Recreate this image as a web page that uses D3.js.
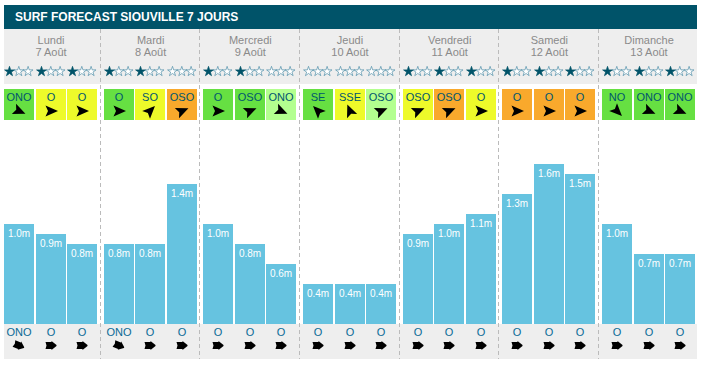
<!DOCTYPE html>
<html>
<head>
<meta charset="utf-8">
<script src="https://cdn.jsdelivr.net/npm/d3@7"></script>
<style>
    html, body { margin: 0; padding: 0; background: #fff; }
    svg { display: block; font-family: "Liberation Sans", Arial, sans-serif; }
</style>
</head>
<body>
<svg id="chart" width="701" height="365"></svg>
<script>
const title = 'SURF FORECAST SIOUVILLE 7 JOURS';
const dayNames = ['Lundi', 'Mardi', 'Mercredi', 'Jeudi', 'Vendredi', 'Samedi', 'Dimanche'];
const dates = ['7 Août', '8 Août', '9 Août', '10 Août', '11 Août', '12 Août', '13 Août'];
const heights = [
    [1.0, 0.9, 0.8], [0.8, 0.8, 1.4], [1.0, 0.8, 0.6], [0.4, 0.4, 0.4],
    [0.9, 1.0, 1.1], [1.3, 1.6, 1.5], [1.0, 0.7, 0.7]
];
const stars = [
    [1, 1, 1], [1, 1, 0], [1, 1, 0], [0, 0, 0],
    [1, 1, 1], [1, 1, 1], [1, 1, 1]
];
const windDirs = [
    ['ONO', 'O', 'O'], ['O', 'SO', 'OSO'], ['O', 'OSO', 'ONO'], ['SE', 'SSE', 'OSO'],
    ['OSO', 'OSO', 'O'], ['O', 'O', 'O'], ['NO', 'ONO', 'ONO']
];
// g = good, l = light, y = fair, o = poor
const windRatings = [
    ['g', 'y', 'y'], ['g', 'y', 'o'], ['g', 'g', 'l'], ['g', 'y', 'l'],
    ['y', 'o', 'y'], ['o', 'o', 'o'], ['g', 'g', 'g']
];
const swellDirs = [
    ['ONO', 'O', 'O'], ['ONO', 'O', 'O'], ['O', 'O', 'O'], ['O', 'O', 'O'],
    ['O', 'O', 'O'], ['O', 'O', 'O'], ['O', 'O', 'O']
];
const compassNames = ['N', 'NNE', 'NE', 'ENE', 'E', 'ESE', 'SE', 'SSE', 'S', 'SSO', 'SO', 'OSO', 'O', 'ONO', 'NO', 'NNO'];
const ratingColours = { g: '#66e042', l: '#b3ff8f', y: '#eefa2a', o: '#f9a92c' };

const teal = '#005369';
const darkText = '#00566e';
const blueText = '#0a6a96';
const grey = '#eeeeee';

// arrows point where the wind is going, not where it comes from
const heading = name => compassNames.indexOf(name) * 22.5 + 180 - 90;

const svg = d3.select('#chart');

const xDay = d3.scaleBand().domain(dayNames).range([4, 701.7]);
const xSlot = d3.scaleBand().domain([0, 1, 2]).range([0, 93]).paddingInner(0.05);
const yScale = d3.scaleLinear().domain([0, 1]).range([324, 224]);

const slotX = (day, i) => Math.round(xDay(day) + xSlot(i));
const slotW = Math.round(xSlot.bandwidth());
const slotMid = (day, i) => slotX(day, i) + slotW / 2;

// bands
svg.append('rect').attr('x', 4).attr('y', 29).attr('width', 693).attr('height', 55).attr('fill', grey);
svg.append('rect').attr('x', 4).attr('y', 324).attr('width', 693).attr('height', 35).attr('fill', grey);
svg.append('rect').attr('x', 4).attr('y', 5).attr('width', 693).attr('height', 24).attr('fill', teal);
svg.append('text').attr('x', 15).attr('y', 21)
    .attr('fill', '#fff').attr('font-size', 12).attr('font-weight', 'bold')
    .text(title);

// one group per day
const days = svg.selectAll('g.day')
    .data(dayNames.map((name, d) => ({ name, d })))
    .enter()
    .append('g')
    .attr('class', 'day');

days.append('text')
    .attr('x', d => xDay(d.name) + 47).attr('y', 44)
    .attr('text-anchor', 'middle').attr('font-size', 11).attr('fill', '#8a8a8a')
    .text(d => d.name);
days.append('text')
    .attr('x', d => xDay(d.name) + 47).attr('y', 56)
    .attr('text-anchor', 'middle').attr('font-size', 11).attr('fill', '#8a8a8a')
    .text(d => dates[d.d]);

const slots = days.selectAll('g.slot')
    .data(d => [0, 1, 2].map(i => ({
        day: d.name,
        i,
        height: heights[d.d][i],
        star: stars[d.d][i],
        wind: windDirs[d.d][i],
        rating: windRatings[d.d][i],
        swell: swellDirs[d.d][i]
    })))
    .enter()
    .append('g')
    .attr('class', 'slot');

// stars
const starPath = d3.symbol().type(d3.symbolStar).size(30)();
slots.each(function drawStars(s) {
    d3.select(this).selectAll('path.star')
        .data([0, 1, 2])
        .enter()
        .append('path')
        .attr('class', 'star')
        .attr('d', starPath)
        .attr('transform', k => `translate(${slotX(s.day, s.i) + 5.5 + k * 9.3},71.5)`)
        .attr('fill', k => (k < s.star ? teal : '#fff'))
        .attr('stroke', k => (k < s.star ? teal : '#4f8ea8'))
        .attr('stroke-width', 0.7);
});

// wind boxes
slots.append('rect')
    .attr('x', s => slotX(s.day, s.i)).attr('y', 89)
    .attr('width', slotW).attr('height', 31)
    .attr('fill', s => ratingColours[s.rating]);
slots.append('text')
    .attr('x', s => slotMid(s.day, s.i)).attr('y', 101)
    .attr('text-anchor', 'middle').attr('font-size', 11).attr('fill', darkText)
    .text(s => s.wind);
slots.append('path')
    .attr('d', 'M7,0 L-5.5,-5.5 L-3,0 L-5.5,5.5 Z')
    .attr('transform', s => `translate(${slotMid(s.day, s.i)},111) rotate(${heading(s.wind)})`)
    .attr('fill', '#000');

// wave bars
slots.append('rect')
    .attr('x', s => slotX(s.day, s.i)).attr('y', s => yScale(s.height))
    .attr('width', slotW).attr('height', s => yScale(0) - yScale(s.height))
    .attr('fill', '#66c3e0');
slots.append('text')
    .attr('x', s => slotMid(s.day, s.i)).attr('y', s => yScale(s.height) + 12.5)
    .attr('text-anchor', 'middle').attr('font-size', 10).attr('fill', '#fff')
    .text(s => `${s.height.toFixed(1)}m`);

// swell
slots.append('text')
    .attr('x', s => slotMid(s.day, s.i)).attr('y', 336)
    .attr('text-anchor', 'middle').attr('font-size', 11).attr('fill', blueText)
    .text(s => s.swell);
slots.append('path')
    .attr('d', 'M-5.5,-3.5 L0.5,-3.5 L0.5,-4.5 L5.5,-0.5 L5.5,0.5 L0.5,4.5 L0.5,3.5 L-5.5,3.5 L-4.5,0 Z')
    .attr('transform', s => `translate(${slotMid(s.day, s.i)},345.5) rotate(${heading(s.swell)})`)
    .attr('fill', '#000');

// dashed day separators
svg.selectAll('line.sep')
    .data(dayNames.slice(1))
    .enter()
    .append('line')
    .attr('class', 'sep')
    .attr('x1', d => Math.floor(xDay(d) - 3.5) + 0.5)
    .attr('x2', d => Math.floor(xDay(d) - 3.5) + 0.5)
    .attr('y1', 29).attr('y2', 359)
    .attr('stroke', '#bbb').attr('stroke-dasharray', '4,3');
</script>
</body>
</html>
